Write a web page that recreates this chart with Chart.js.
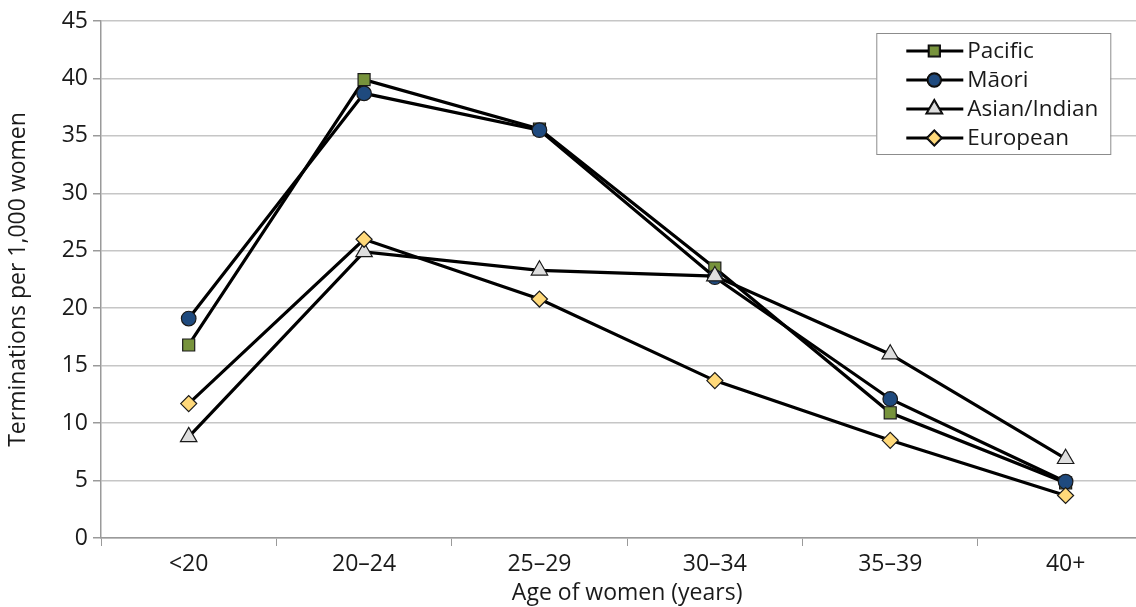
<!DOCTYPE html>
<html>
<head>
<meta charset="utf-8">
<script src="https://cdn.jsdelivr.net/npm/chart.js@4/dist/chart.umd.min.js"></script>
<style>
  html, body { margin: 0; padding: 0; background: #fff; overflow: hidden; }
  #wrap { width: 1164px; height: 607px; }
</style>
</head>
<body>
<div id="wrap"><canvas id="chart" width="1164" height="607"></canvas></div>
<script>
var ageGroups = ["<20", "20\u201324", "25\u201329", "30\u201334", "35\u201339", "40+"];
var pacific  = [16.8, 39.9, 35.6, 23.5, 10.9, 4.8];
var maori    = [19.1, 38.7, 35.5, 22.7, 12.1, 4.9];
var asian    = [8.8, 24.9, 23.3, 22.8, 16.0, 6.9];
var european = [11.7, 26.0, 20.8, 13.7, 8.5, 3.7];
var yTicks   = [0, 5, 10, 15, 20, 25, 30, 35, 40, 45];

var FONT = "'Open Sans', 'Noto Sans', sans-serif";
var TEXT = "#1a1a1a";

function series(label, values, style, fill, radius, order){
  return {
    label: label,
    data: values,
    borderColor: "#000",
    borderWidth: 3.2,
    tension: 0,
    fill: false,
    pointStyle: style,
    pointRadius: radius,
    pointBackgroundColor: fill,
    pointBorderColor: "#1a1a1a",
    pointBorderWidth: 1.2,
    order: order
  };
}

var datasets = [
  series("Pacific", pacific, "rect", "#77933C", 8.5, 4),
  series("M\u0101ori", maori, "circle", "#1F4A7E", 7.3, 3),
  series("Asian/Indian", asian, "triangle", "#DEDEDE", 9.5, 2),
  series("European", european, "rectRot", "#FFD97A", 8, 1)
];

// legend box drawn inside the plot, Excel style
var boxLegend = {
  id: "boxLegend",
  afterDraw: function(chart){
    var ctx = chart.ctx;
    var area = chart.chartArea;
    var x0 = area.right - 277, y0 = area.top + 12, w = 234, h = 121;
    ctx.save();
    ctx.fillStyle = "#fff";
    ctx.fillRect(x0, y0, w, h);
    ctx.strokeStyle = "#8c8c8c";
    ctx.lineWidth = 1;
    ctx.strokeRect(x0 + 0.5, y0 + 0.5, w, h);
    ctx.font = "22.5px " + FONT;
    ctx.textBaseline = "middle";
    ctx.textAlign = "left";
    chart.data.datasets.forEach(function(ds, i){
      var y = y0 + 18 + i * 29;
      ctx.strokeStyle = "#000";
      ctx.lineWidth = 3;
      ctx.beginPath();
      ctx.moveTo(x0 + 30, y);
      ctx.lineTo(x0 + 87, y);
      ctx.stroke();
      Chart.helpers.drawPoint(ctx, {
        pointStyle: ds.pointStyle,
        radius: ds.pointRadius * 0.85,
        borderWidth: 1.2,
        rotation: 0
      }, x0 + 58, y);
      ctx.fillStyle = ds.pointBackgroundColor;
      ctx.strokeStyle = "#1a1a1a";
      ctx.lineWidth = 1.2;
      ctx.fill();
      ctx.stroke();
      ctx.fillStyle = TEXT;
      ctx.fillText(ds.label, x0 + 91, y + 1);
    });
    ctx.restore();
  }
};

new Chart(document.getElementById("chart"), {
  type: "line",
  data: { labels: ageGroups, datasets: datasets },
  plugins: [boxLegend],
  options: {
    responsive: false,
    animation: false,
    layout: { padding: { top: 21, right: 3, left: 0, bottom: 0 } },
    plugins: {
      legend: { display: false },
      tooltip: { enabled: false }
    },
    scales: {
      x: {
        offset: true,
        grid: {
          offset: true,
          drawOnChartArea: false,
          drawTicks: true,
          tickLength: 8,
          color: "#9a9a9a",
          lineWidth: 1
        },
        border: { color: "#9a9a9a", width: 1.5 },
        ticks: { color: TEXT, font: { family: FONT, size: 23 }, padding: 5, maxRotation: 0 },
        title: {
          display: true,
          text: "Age of women (years)",
          color: TEXT,
          font: { family: FONT, size: 23 },
          padding: { top: 0, bottom: 0 }
        },
        afterFit: function(scale){ scale.height = 69; }
      },
      y: {
        min: 0,
        max: 45,
        afterBuildTicks: function(scale){
          scale.ticks = yTicks.map(function(v){ return { value: v }; });
        },
        grid: {
          color: "#c6c6c6",
          lineWidth: 1.5,
          drawTicks: true,
          tickLength: 8,
          tickColor: "#9a9a9a"
        },
        border: { color: "#9a9a9a", width: 1.5 },
        ticks: { color: TEXT, font: { family: FONT, size: 23 }, padding: 5 },
        title: {
          display: true,
          text: "Terminations per 1,000 women",
          color: TEXT,
          font: { family: FONT, size: 23 },
          padding: { top: 5, bottom: 0 }
        },
        afterFit: function(scale){ scale.width = 101; }
      }
    }
  }
});
</script>
</body>
</html>
